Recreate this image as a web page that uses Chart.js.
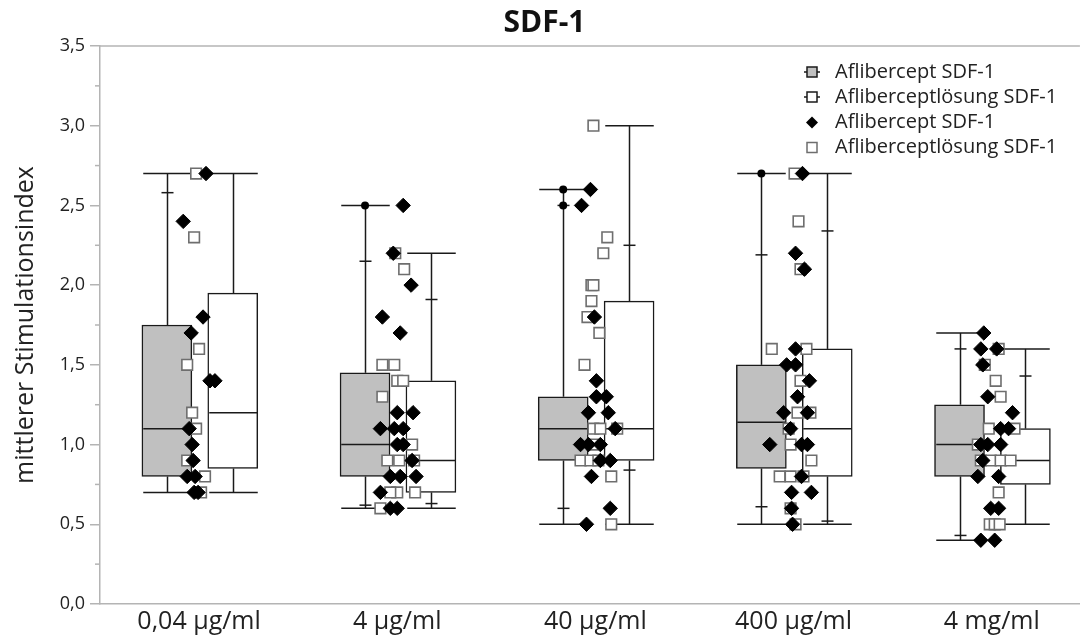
<!DOCTYPE html>
<html><head><meta charset="utf-8">
<script src="https://cdn.jsdelivr.net/npm/chart.js@4"></script>
<style>html,body{margin:0;padding:0;background:#fff;}</style>
</head><body>
<canvas id="c" width="1089" height="641"></canvas>
<script>
// ---------- DATA ----------
const categories = ['0,04 µg/ml', '4 µg/ml', '40 µg/ml', '400 µg/ml', '4 mg/ml'];
const chartTitle = 'SDF-1';
const yTitle = 'mittlerer Stimulationsindex';
const yTickValues = [0, 0.5, 1.0, 1.5, 2.0, 2.5, 3.0, 3.5];

// Box statistics – Aflibercept SDF-1 (grey)
const boxA_min = [0.7, 0.6, 0.5, 0.5, 0.4];
const boxA_q1  = [0.8, 0.8, 0.9, 0.85, 0.8];
const boxA_med = [1.1, 1.0, 1.1, 1.14, 1.0];
const boxA_q3  = [1.75, 1.45, 1.3, 1.5, 1.25];
const boxA_max = [2.7, 2.5, 2.6, 2.7, 1.7];
const boxA_lowMark  = [null, 0.62, 0.6, 0.61, 0.43];
const boxA_highMark = [2.58, 2.15, 2.5, 2.19, 1.6];
const boxA_dots = [[], [2.5], [2.6, 2.5], [2.7], []];

// Box statistics – Afliberceptlösung SDF-1 (white)
const boxB_min = [0.7, 0.6, 0.5, 0.5, 0.5];
const boxB_q1  = [0.85, 0.7, 0.9, 0.8, 0.75];
const boxB_med = [1.2, 0.9, 1.1, 1.1, 0.9];
const boxB_q3  = [1.95, 1.4, 1.9, 1.6, 1.1];
const boxB_max = [2.7, 2.2, 3.0, 2.7, 1.6];
const boxB_lowMark  = [null, 0.63, 0.84, 0.52, null];
const boxB_highMark = [null, 1.91, 2.25, 2.34, 1.43];

// Individual values – Aflibercept SDF-1 (diamonds)
const pointsA = [
  [2.7,2.4,1.8,1.7,1.4,1.4,1.1,1.0,0.9,0.8,0.8,0.7,0.7],
  [2.5,2.2,2.0,1.8,1.7,1.2,1.2,1.1,1.1,1.1,1.0,1.0,0.9,0.8,0.8,0.8,0.7,0.6,0.6],
  [2.6,2.5,1.8,1.4,1.3,1.3,1.2,1.2,1.1,1.0,1.0,1.0,0.9,0.9,0.8,0.6,0.5],
  [2.7,2.2,2.1,1.6,1.5,1.5,1.4,1.3,1.2,1.2,1.1,1.0,1.0,1.0,0.8,0.7,0.7,0.6,0.5],
  [1.7,1.6,1.6,1.5,1.3,1.2,1.1,1.1,1.0,1.0,1.0,0.9,0.8,0.8,0.6,0.6,0.4,0.4]
];
// Individual values – Afliberceptlösung SDF-1 (squares)
const pointsB = [
  [2.7,2.3,1.6,1.5,1.2,1.1,0.9,0.8,0.7],
  [2.2,2.1,1.5,1.5,1.4,1.4,1.3,1.0,0.9,0.9,0.9,0.7,0.7,0.7,0.6],
  [3.0,2.3,2.2,2.0,2.0,1.9,1.8,1.7,1.5,1.1,1.1,1.1,1.0,0.9,0.9,0.9,0.8,0.5],
  [2.7,2.4,2.1,1.6,1.6,1.4,1.2,1.2,1.1,1.0,0.9,0.8,0.8,0.8,0.6,0.5],
  [1.6,1.5,1.4,1.3,1.1,1.1,1.0,0.9,0.9,0.9,0.9,0.7,0.5,0.5,0.5]
];
// Horizontal jitter of the individual values (in 1/200 of a category step)
const jitterA = [
  [7,-16,4,-8,11,16,-10,-7,-6,-12,-4,-5,-1],
  [6,-4,14,-15,3,0,16,-17,-3,6,0,6,15,-7,3,19,-17,-7,0],
  [-5,-14,-1,1,1,11,-7,13,20,-15,-7,5,5,15,-4,15,-9],
  [9,2,11,2,-7,2,16,4,-10,14,-3,-24,8,14,8,-2,18,-2,-1],
  [-8,-11,5,-9,-4,21,9,17,-11,-4,9,-9,-14,7,-1,7,-11,3]
];
const jitterB = [
  [-3,-5,0,-12,-7,-3,-12,6,2],
  [-2,7,-15,-3,0,6,-15,15,-10,2,17,0,18,-7,-17],
  [-2,12,8,-4,-2,-4,-8,4,-11,-2,5,22,-3,-15,-5,3,16,16],
  [1,5,7,-22,13,7,4,17,-5,-3,18,-14,-3,10,-3,2],
  [7,-7,4,9,-3,23,-14,-11,-1,9,19,7,-2,3,8]
];

// ---------- LAYOUT / STYLE ----------
const JIT = 0.005;
const OFF_A = -0.1625, OFF_B = 0.17;
const BOX_W = 50;
const FONT = "'Open Sans', 'Noto Sans', 'DejaVu Sans', sans-serif";
const AXIS_GREY = '#b4b4b4';
const INK = '#1a1a1a';

const labelA = 'Aflibercept SDF-1';
const labelB = 'Afliberceptlösung SDF-1';

function pts(vals, jit) {
  const out = [];
  vals.forEach((arr, i) => arr.forEach((v, k) => out.push({x: i + jit[i][k] * JIT, y: v})));
  return out;
}
const dotData = [];
boxA_dots.forEach((arr, i) => arr.forEach(v => dotData.push({x: i + OFF_A, y: v})));

const boxSets = [
  {off: OFF_A, mn: boxA_min, q1: boxA_q1, md: boxA_med, q3: boxA_q3, mx: boxA_max, lo: boxA_lowMark, hi: boxA_highMark},
  {off: OFF_B, mn: boxB_min, q1: boxB_q1, md: boxB_med, q3: boxB_q3, mx: boxB_max, lo: boxB_lowMark, hi: boxB_highMark}
];

function drawWhiskers(chart) {
  const ctx = chart.ctx;
  const xs = chart.scales.x, ys = chart.scales.y;
  const ln = (x1, y1, x2, y2) => { ctx.beginPath(); ctx.moveTo(x1, y1); ctx.lineTo(x2, y2); ctx.stroke(); };
  ctx.save();
  ctx.strokeStyle = INK;
  ctx.lineWidth = 1.5;
  boxSets.forEach(s => {
    for (let i = 0; i < categories.length; i++) {
      const cx = Math.round(xs.getPixelForValue(i + s.off)) + 0.5;
      const h = BOX_W / 2 - 0.75;
      const yMax = ys.getPixelForValue(s.mx[i]);
      const yMin = ys.getPixelForValue(s.mn[i]);
      const yQ1 = ys.getPixelForValue(s.q1[i]);
      const yQ3 = ys.getPixelForValue(s.q3[i]);
      const yMd = ys.getPixelForValue(s.md[i]);
      ln(cx, yMax, cx, yQ3);
      ln(cx, yQ1, cx, yMin);
      ln(cx - h, yMax, cx + h, yMax);
      ln(cx - h, yMin, cx + h, yMin);
      ln(cx - h, yMd, cx + h, yMd);
      if (s.hi[i] != null) { const t = ys.getPixelForValue(s.hi[i]); ln(cx - 6, t, cx + 6, t); }
      if (s.lo[i] != null) { const t = ys.getPixelForValue(s.lo[i]); ln(cx - 6, t, cx + 6, t); }
    }
  });
  ctx.restore();
}

const boxPlugin = {
  id: 'boxWhiskers',
  beforeDatasetDraw(chart, args) {
    if (args.index === 2) drawWhiskers(chart);
  }
};

const framePlugin = {
  id: 'frame',
  beforeDatasetsDraw(chart) {
    const {ctx, chartArea: a} = chart;
    const ys = chart.scales.y;
    ctx.save();
    ctx.strokeStyle = AXIS_GREY; ctx.lineWidth = 1.5;
    ctx.beginPath(); ctx.moveTo(a.left, a.top); ctx.lineTo(a.right, a.top); ctx.stroke();
    for (let k = 0; k < yTickValues.length - 1; k++) {
      const v = (yTickValues[k] + yTickValues[k + 1]) / 2;
      const y = ys.getPixelForValue(v);
      ctx.beginPath(); ctx.moveTo(a.left - 5, y); ctx.lineTo(a.left, y); ctx.stroke();
    }
    ctx.restore();
  },
  afterDraw(chart) {
    const {ctx} = chart;
    ctx.save();
    const ix = 812, tx = 835;
    const rows = [72, 97, 122.5, 147.5];
    ctx.strokeStyle = INK; ctx.lineWidth = 1.5;
    [['#c0c0c0', rows[0]], ['#ffffff', rows[1]]].forEach(([fill, y]) => {
      ctx.beginPath(); ctx.moveTo(ix - 8, y); ctx.lineTo(ix + 8, y); ctx.stroke();
      ctx.fillStyle = fill;
      ctx.fillRect(ix - 5, y - 5, 10, 10);
      ctx.strokeRect(ix - 5, y - 5, 10, 10);
    });
    ctx.fillStyle = '#000';
    ctx.beginPath();
    ctx.moveTo(ix - 6, rows[2]); ctx.lineTo(ix, rows[2] - 6); ctx.lineTo(ix + 6, rows[2]); ctx.lineTo(ix, rows[2] + 6);
    ctx.closePath(); ctx.fill();
    ctx.strokeStyle = '#6e6e6e'; ctx.fillStyle = '#fff';
    ctx.fillRect(ix - 5, rows[3] - 5, 10, 10);
    ctx.strokeRect(ix - 5, rows[3] - 5, 10, 10);
    ctx.fillStyle = '#222';
    ctx.font = "20px " + FONT;
    ctx.textBaseline = 'middle';
    [labelA, labelB, labelA, labelB].forEach((t, k) => ctx.fillText(t, tx, rows[k]));
    ctx.restore();
  }
};

new Chart(document.getElementById('c'), {
  data: {
    datasets: [
      { type: 'bar', label: labelA, order: 6, grouped: false,
        data: categories.map((c, i) => ({x: i + OFF_A, y: [boxA_q1[i], boxA_q3[i]]})),
        backgroundColor: '#c0c0c0', borderColor: INK, borderWidth: 1.5, borderSkipped: false, barThickness: BOX_W },
      { type: 'bar', label: labelB, order: 5, grouped: false,
        data: categories.map((c, i) => ({x: i + OFF_B, y: [boxB_q1[i], boxB_q3[i]]})),
        backgroundColor: '#ffffff', borderColor: INK, borderWidth: 1.5, borderSkipped: false, barThickness: BOX_W },
      { type: 'scatter', label: labelB, order: 3, data: pts(pointsB, jitterB),
        pointStyle: 'rect', pointRadius: 7.5, backgroundColor: '#ffffff', borderColor: '#6e6e6e', borderWidth: 1.6 },
      { type: 'scatter', label: labelA, order: 2, data: pts(pointsA, jitterA),
        pointStyle: 'rectRot', pointRadius: 7.2, backgroundColor: '#000000', borderColor: '#000000', borderWidth: 1 },
      { type: 'scatter', label: 'dots', order: 1, data: dotData,
        pointStyle: 'circle', pointRadius: 4, backgroundColor: '#000000', borderWidth: 0 }
    ]
  },
  options: {
    responsive: false, animation: false,
    layout: { padding: { left: 0, right: 0, top: 0, bottom: 0 } },
    plugins: {
      legend: { display: false }, tooltip: { enabled: false },
      title: { display: true, text: chartTitle, color: '#111',
        font: { family: FONT, size: 30, weight: 'bold' }, padding: { top: 5, bottom: 5 } }
    },
    scales: {
      x: { type: 'linear', min: -0.5, max: 4.445, offset: false,
        afterBuildTicks: s => { s.ticks = categories.map((c, i) => ({value: i})); },
        afterFit: s => { s.height = 37; },
        grid: { display: false, drawTicks: false },
        border: { display: true, color: AXIS_GREY, width: 1.5 },
        ticks: { padding: 3, color: '#222', font: { family: FONT, size: 25 }, maxRotation: 0,
          callback: v => categories[v] } },
      y: { type: 'linear', min: 0, max: 3.5,
        afterBuildTicks: s => { s.ticks = yTickValues.map(v => ({value: v})); },
        afterFit: s => { s.width = 100; },
        grid: { drawOnChartArea: false, drawTicks: true, tickLength: 10, color: AXIS_GREY, lineWidth: 1.5 },
        border: { display: true, color: AXIS_GREY, width: 1.5 },
        ticks: { padding: 5, color: '#222', font: { family: FONT, size: 18 },
          callback: v => v.toFixed(1).replace('.', ',') },
        title: { display: true, text: yTitle, color: '#222', font: { family: FONT, size: 25 }, padding: { top: 11 } } }
    }
  },
  plugins: [boxPlugin, framePlugin]
});
</script>
</body></html>
